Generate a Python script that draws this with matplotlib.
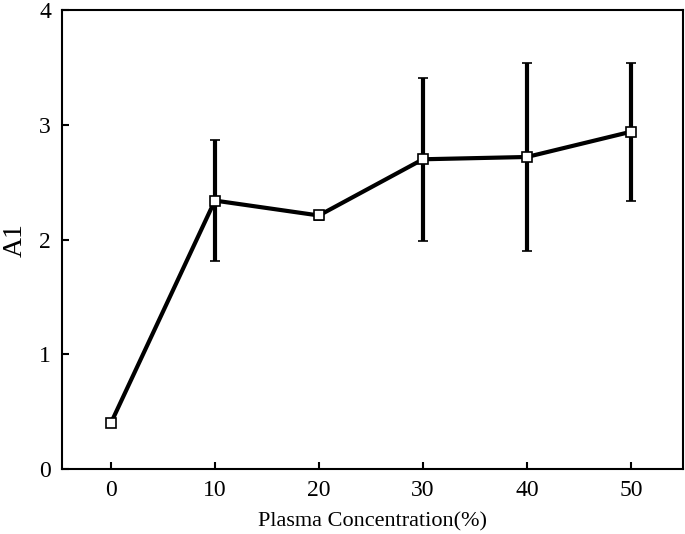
import matplotlib.pyplot as plt

conc = [0, 10, 20, 30, 40, 50]
a1 = [0.40, 2.34, 2.21, 2.70, 2.72, 2.94]
err = [0.0, 0.53, 0.04, 0.71, 0.82, 0.60]

plt.rcParams['font.family'] = ['Liberation Serif', 'DejaVu Serif']

fig = plt.figure(figsize=(6.85, 5.34), dpi=100)
ax = fig.add_axes([0.0905, 0.1217, 0.9065, 0.8593])

ax.errorbar(conc, a1, yerr=err, color='black', linewidth=3, elinewidth=3,
            capsize=3.5, capthick=3, marker='s', markersize=7.5,
            markerfacecolor='white', markeredgecolor='black', markeredgewidth=1.2)

ax.set_xlim(-4.7, 55)
ax.set_ylim(0, 4)
ax.set_xticks([0, 10, 20, 30, 40, 50])
ax.set_yticks([0, 1, 2, 3, 4])
ax.tick_params(direction='in', length=5, width=1.5, labelsize=17, pad=8)
for s in ax.spines.values():
    s.set_linewidth(1.5)
ax.set_xlabel('Plasma Concentration(%)', fontsize=16, labelpad=8)
ax.set_ylabel('A1', fontsize=20, labelpad=8)

fig.savefig('out.png')
